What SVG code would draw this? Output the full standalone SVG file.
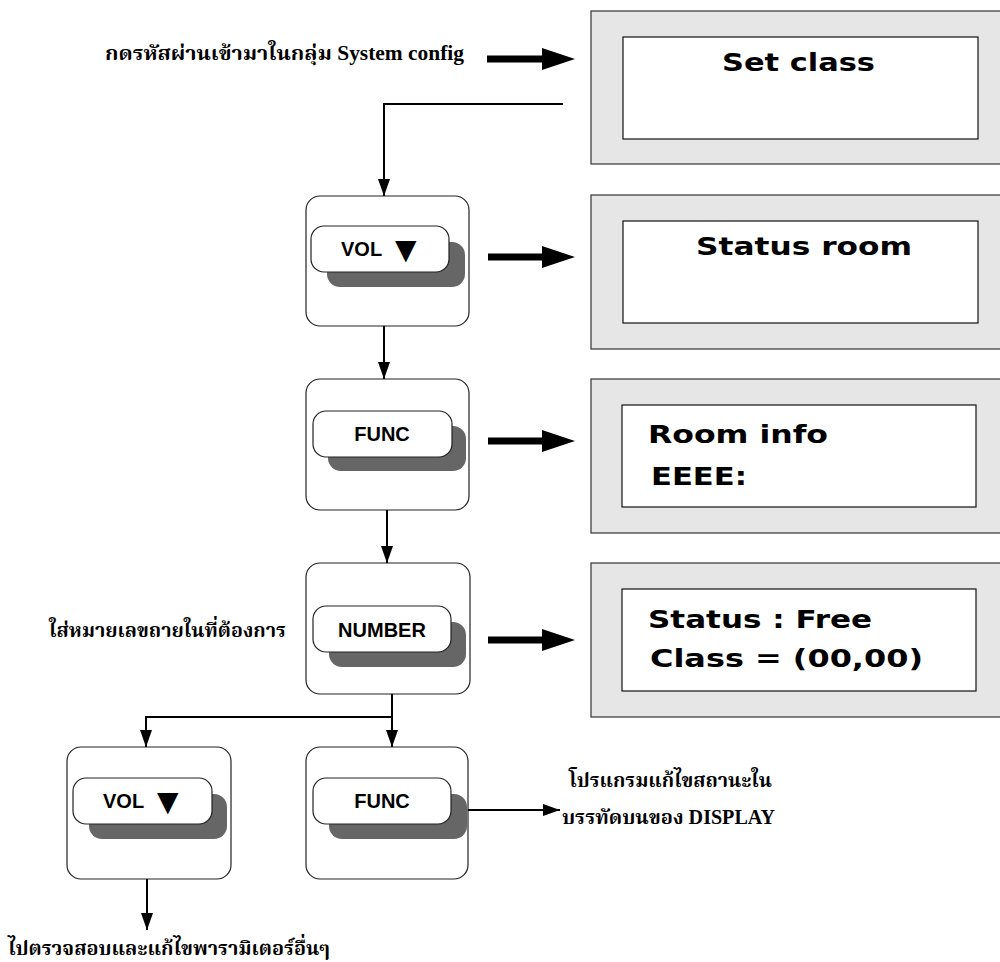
<svg xmlns="http://www.w3.org/2000/svg" width="1000" height="962" viewBox="0 0 1000 962">
<style>
.panel{fill:#e6e6e6;stroke:#333;stroke-width:1.2}
.screen{fill:#fff;stroke:#111;stroke-width:1.2}
.lcd{font-family:"DejaVu Sans","Verdana",sans-serif;font-weight:bold;font-size:25px;fill:#000}
.node{fill:#fff;stroke:#222;stroke-width:1.2}
.shadow{fill:#666}
.btn{fill:#fff;stroke:#222;stroke-width:1.2}
.btxt{font-family:"Liberation Sans",Arial,sans-serif;font-weight:bold;font-size:20px;fill:#000}
.tri{font-family:"DejaVu Sans",sans-serif;font-size:28px}
.thai{font-family:"Liberation Serif","Noto Serif Thai","Noto Sans Thai","Tlwg Typo","Loma",serif;font-weight:bold;font-size:20px;fill:#000}
.con{fill:none;stroke:#000;stroke-width:2}
.thick{fill:#000}
</style>
<defs>
<marker id="ah" viewBox="0 0 17 12" refX="17" refY="6" markerWidth="17" markerHeight="12" orient="auto" markerUnits="userSpaceOnUse">
<path d="M0,0 L17,6 L0,12 Z" fill="#000"/>
</marker>
</defs>

<g id="panel-setclass">
<rect class="panel" x="591" y="11" width="420" height="153"/>
<rect class="screen" x="623" y="37" width="355" height="102"/>
<text class="lcd" x="722" y="71" textLength="153" lengthAdjust="spacingAndGlyphs">Set class</text>
</g>
<g id="panel-statusroom">
<rect class="panel" x="591" y="195" width="420" height="154"/>
<rect class="screen" x="623" y="221" width="355" height="102"/>
<text class="lcd" x="696" y="255" textLength="216" lengthAdjust="spacingAndGlyphs">Status room</text>
</g>
<g id="panel-roominfo">
<rect class="panel" x="591" y="379" width="420" height="154"/>
<rect class="screen" x="622" y="405" width="354" height="102"/>
<text class="lcd" x="648" y="443" textLength="180" lengthAdjust="spacingAndGlyphs">Room info</text>
<text class="lcd" x="651" y="485" textLength="96" lengthAdjust="spacingAndGlyphs">EEEE:</text>
</g>
<g id="panel-status">
<rect class="panel" x="591" y="563" width="420" height="154"/>
<rect class="screen" x="622" y="589" width="354" height="102"/>
<text class="lcd" x="648" y="628" textLength="224" lengthAdjust="spacingAndGlyphs">Status : Free</text>
<text class="lcd" x="650" y="667" textLength="273" lengthAdjust="spacingAndGlyphs">Class = (00,00)</text>
</g>

<g id="node-vol1">
<rect class="node" x="306" y="196" width="163" height="130" rx="14"/>
<rect class="shadow" x="327" y="242" width="138" height="45" rx="13"/>
<rect class="btn" x="311" y="226" width="138" height="46" rx="13"/>
<text class="btxt" x="341" y="256">VOL <tspan class="tri" x="395" y="259">▼</tspan></text>
</g>
<g id="node-func1">
<rect class="node" x="306" y="379" width="163" height="131" rx="14"/>
<rect class="shadow" x="328" y="426" width="138" height="45" rx="13"/>
<rect class="btn" x="313" y="411" width="139" height="46" rx="13"/>
<text class="btxt" x="382" y="441" text-anchor="middle">FUNC</text>
</g>
<g id="node-number">
<rect class="node" x="306" y="563" width="164" height="131" rx="14"/>
<rect class="shadow" x="329" y="622" width="137" height="45" rx="13"/>
<rect class="btn" x="313" y="606" width="138" height="46" rx="13"/>
<text class="btxt" x="382" y="637" text-anchor="middle">NUMBER</text>
</g>
<g id="node-vol2">
<rect class="node" x="67" y="747" width="164" height="132" rx="14"/>
<rect class="shadow" x="89" y="794" width="138" height="45" rx="13"/>
<rect class="btn" x="73" y="778" width="139" height="46" rx="13"/>
<text class="btxt" x="103" y="808">VOL <tspan class="tri" x="157" y="811">▼</tspan></text>
</g>
<g id="node-func2">
<rect class="node" x="306" y="747" width="162" height="132" rx="14"/>
<rect class="shadow" x="329" y="794" width="138" height="45" rx="13"/>
<rect class="btn" x="313" y="778" width="138" height="46" rx="13"/>
<text class="btxt" x="382" y="808" text-anchor="middle">FUNC</text>
</g>

<g id="labels">
<text class="thai" x="105" y="60" textLength="359" lengthAdjust="spacingAndGlyphs">กดรหัสผ่านเข้ามาในกลุ่ม System config</text>
<text class="thai" x="49" y="637" textLength="237" lengthAdjust="spacingAndGlyphs">ใส่หมายเลขถายในที่ต้องการ</text>
<text class="thai" x="569" y="787" textLength="203" lengthAdjust="spacingAndGlyphs">โปรแกรมแก้ไขสถานะใน</text>
<text class="thai" x="562" y="824" textLength="213" lengthAdjust="spacingAndGlyphs">บรรทัดบนของ DISPLAY</text>
<text class="thai" x="8" y="955" textLength="322" lengthAdjust="spacingAndGlyphs">ไปตรวจสอบและแก้ไขพารามิเตอร์อื่นๆ</text>
</g>

<g id="connectors">
<polygon class="thick" points="487,55.5 542,55.5 542,48 575,59 542,70 542,62.5 487,62.5"/>
<polygon class="thick" points="488,253.5 542,253.5 542,246 575,257 542,268 542,260.5 488,260.5"/>
<polygon class="thick" points="488,437.5 542,437.5 542,430 575,441 542,452 542,444.5 488,444.5"/>
<polygon class="thick" points="488,636.5 542,636.5 542,629 575,640 542,651 542,643.5 488,643.5"/>
<polyline class="con" points="563,104 384,104 384,196" marker-end="url(#ah)"/>
<line class="con" x1="384" y1="326" x2="384" y2="379" marker-end="url(#ah)"/>
<line class="con" x1="387" y1="510" x2="387" y2="563" marker-end="url(#ah)"/>
<line class="con" x1="392" y1="694" x2="392" y2="747" marker-end="url(#ah)"/>
<polyline class="con" points="392,717 146,717 146,747" marker-end="url(#ah)"/>
<line class="con" x1="468" y1="810" x2="560" y2="810" marker-end="url(#ah)"/>
<line class="con" x1="147" y1="879" x2="147" y2="930" marker-end="url(#ah)"/>
</g>
</svg>
